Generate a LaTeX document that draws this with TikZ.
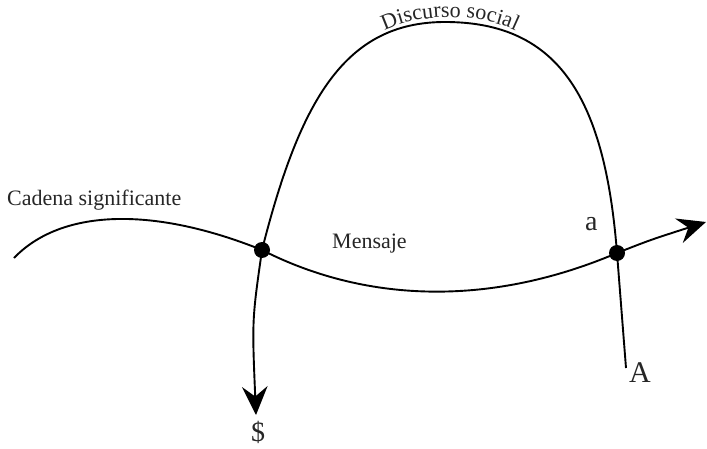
\documentclass[tikz,border=0pt]{standalone}
\usepackage{fontspec}
\setmainfont{Liberation Serif}
\usetikzlibrary{arrows.meta,decorations.text}
\tikzset{bighead/.tip={Stealth[length=1.0cm,width=0.9cm,inset=0.35cm]}}
\begin{document}
\begin{tikzpicture}[x=1pt,y=1pt,
  curve/.style={line width=1.9pt, black},
  dotnode/.style={circle, fill=black, inner sep=0pt, minimum size=16pt},
  lbl/.style={inner sep=0pt, text=black!85}]
\useasboundingbox (0,0) rectangle (707,448);
\coordinate (s) at (14,190);
\coordinate (A) at (262,198);
\coordinate (B) at (617,195);
\coordinate (top) at (445,426);
\coordinate (e1) at (706,226);
\coordinate (e2) at (256,33);
\coordinate (e3) at (626,80);
% signifying chain
\draw[curve, -bighead] (s) .. controls (60,238) and (150,243) .. (A)
   .. controls (370,143) and (495,143) .. (B)
   .. controls (650,208) .. (e1);
% discourse arch
\draw[curve, bighead-] (e2) .. controls (252,128) .. (A)
   .. controls (300,348) and (345,426) .. (top)
   .. controls (560,426) and (605,348) .. (B) -- (e3);
\node[dotnode] (dA) at (A) {};
\node[dotnode] (dB) at (B) {};
% labels
\node[lbl, anchor=base west, font=\fontsize{22}{26}\selectfont] (cad) at (7,243) {Cadena significante};
\node[lbl, anchor=base west, font=\fontsize{22}{26}\selectfont] (men) at (332,200) {Mensaje};
\node[lbl, anchor=base west, font=\fontsize{28}{32}\selectfont] (la) at (585,218) {a};
\node[lbl, anchor=base west, font=\fontsize{30}{34}\selectfont] (lA) at (629,66) {A};
\node[lbl, anchor=base, font=\fontsize{28}{32}\selectfont] (ls) at (258,7) {\$};
\path[decorate, decoration={text along path, text align=center,
   text={|\fontsize{22}{26}\selectfont\color{black!85}|Discurso social}}]
   (380,415) .. controls (418,436) and (482,436) .. (520,415);
\end{tikzpicture}
\end{document}
